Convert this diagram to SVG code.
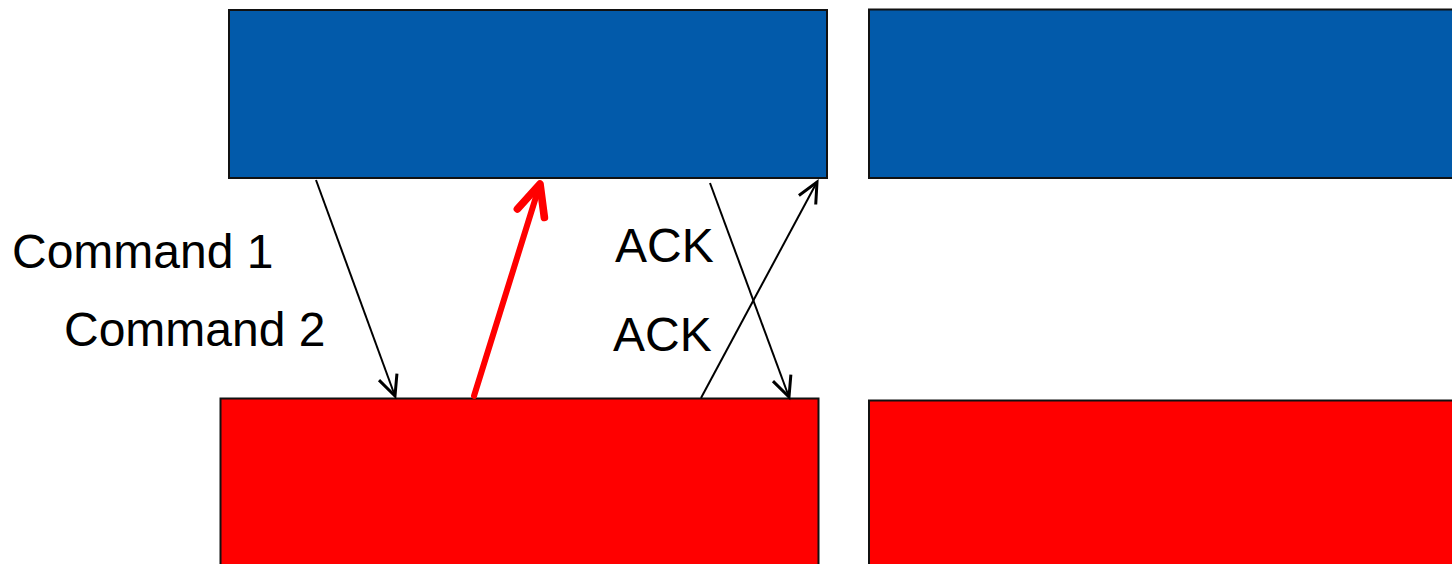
<svg xmlns="http://www.w3.org/2000/svg" width="1452" height="564" viewBox="0 0 1452 564">
  <style>
    .blue { fill: #025AAA; stroke: #111; stroke-width: 2; }
    .red { fill: #FF0000; stroke: #111; stroke-width: 2; }
    .label { font-family: "Liberation Sans", Arial, sans-serif; font-size: 48px; fill: #000; }
    .thin { stroke: #000; stroke-width: 2; fill: none; }
    .bold { stroke: #FF0000; stroke-width: 6; fill: none; stroke-linecap: round; }
  </style>
  <defs>
    <marker id="openHead" markerUnits="userSpaceOnUse" markerWidth="30" markerHeight="30" viewBox="-20 -10 22 20" refX="0" refY="0" orient="auto" overflow="visible">
      <path d="M-15,-7 L0,0 L-15,7" fill="none" stroke="#000" stroke-width="2.2"/>
    </marker>
    <marker id="boldHead" markerUnits="userSpaceOnUse" markerWidth="40" markerHeight="40" viewBox="-30 -15 34 30" refX="0" refY="0" orient="auto" overflow="visible">
      <path d="M-26,-12 L0,0 L-26,12" fill="none" stroke="#FF0000" stroke-width="6.5" stroke-linecap="round" stroke-linejoin="round"/>
    </marker>
  </defs>

  <g id="host-a">
    <rect class="blue" x="229" y="10" width="598" height="168"/>
  </g>
  <g id="host-b">
    <rect class="blue" x="869" y="9.5" width="590" height="168.5"/>
  </g>
  <g id="device-a">
    <rect class="red" x="220.5" y="398.5" width="598" height="170"/>
  </g>
  <g id="device-b">
    <rect class="red" x="869" y="400.5" width="590" height="170"/>
  </g>

  <g id="connectors">
    <line class="thin" x1="316" y1="180" x2="395" y2="396" marker-end="url(#openHead)"/>
    <line class="bold" x1="474" y1="396" x2="540" y2="184" marker-end="url(#boldHead)"/>
    <line class="thin" x1="710" y1="183" x2="789" y2="397" marker-end="url(#openHead)"/>
    <line class="thin" x1="701" y1="398" x2="817" y2="182" marker-end="url(#openHead)"/>
  </g>

  <g id="labels">
    <text class="label" x="12" y="268">Command 1</text>
    <text class="label" x="64" y="346">Command 2</text>
    <text class="label" x="615" y="262">ACK</text>
    <text class="label" x="613" y="351">ACK</text>
  </g>
</svg>
